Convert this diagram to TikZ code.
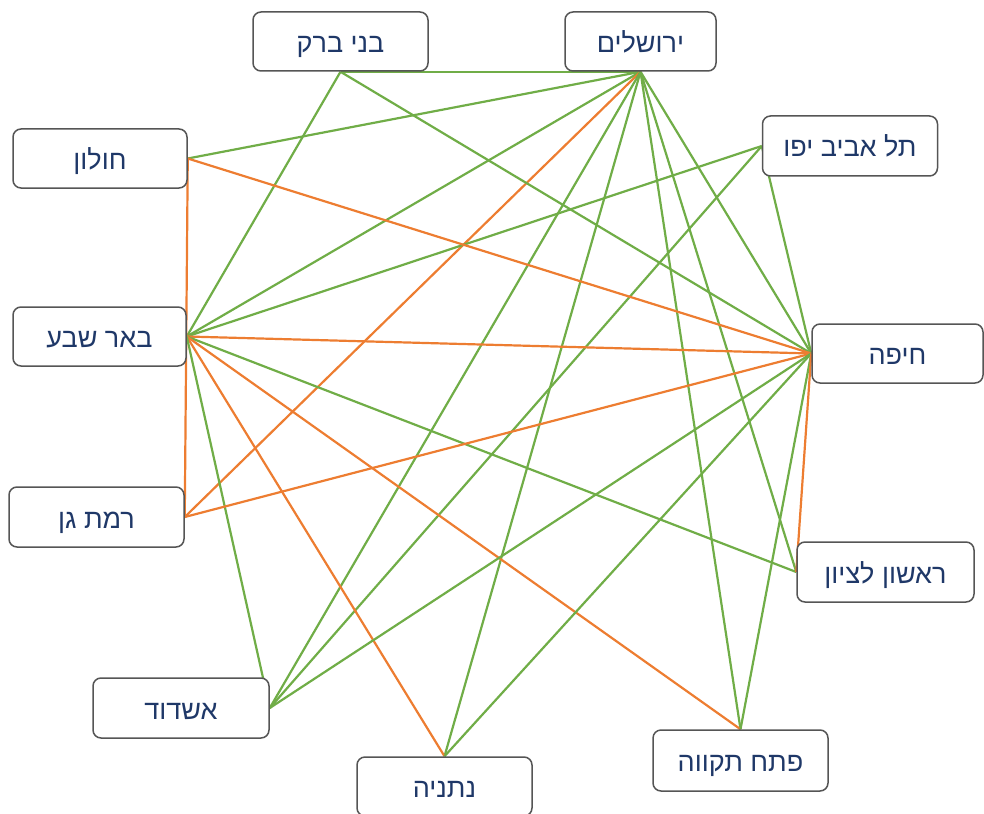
\documentclass[tikz,border=0pt]{standalone}
\usepackage{fontspec}
\newfontfamily\hebfont[Script=Hebrew]{Liberation Sans}
\TeXXeTstate=1
\usetikzlibrary{backgrounds}
\definecolor{gline}{HTML}{70AD47}
\definecolor{oline}{HTML}{ED7D31}
\definecolor{navy}{HTML}{1F3868}
\definecolor{boxgray}{HTML}{555555}
\tikzset{
  city/.style={draw=boxgray, line width=1.5pt, fill=white, rounded corners=8pt,
    minimum width=175pt, minimum height=59pt, inner sep=0pt,
    text height=22pt, text depth=0pt,
    text=navy, font=\hebfont\fontsize{27}{30}\selectfont},
  gedge/.style={draw=gline, line width=2.2pt},
  oedge/.style={draw=oline, line width=2.2pt}
}
\newcommand{\heb}[1]{\beginR #1\endR}
\begin{document}
\begin{tikzpicture}[x=1pt,y=-1pt]
\useasboundingbox (0,0) rectangle (984,813);
\node[city] (bb) at (340.5,41.5) {\heb{בני ברק}};
\node[city, minimum width=151pt] (jer) at (640.5,41.5) {\heb{ירושלים}};
\node[city, minimum height=60pt] (ta) at (850,146) {\heb{תל אביב יפו}};
\node[city, minimum width=174pt] (hol) at (100,158.5) {\heb{חולון}};
\node[city, minimum width=173pt] (bs) at (99.5,336.5) {\heb{באר שבע}};
\node[city, minimum width=171pt] (hai) at (897.5,353.5) {\heb{חיפה}};
\node[city, minimum height=60pt] (rg) at (96.5,517) {\heb{רמת גן}};
\node[city, minimum width=177pt, minimum height=60pt] (ris) at (885.5,572) {\heb{ראשון לציון}};
\node[city, minimum width=176pt, minimum height=60pt] (ash) at (181,708) {\heb{אשדוד}};
\node[city] (net) at (444.5,786.5) {\heb{נתניה}};
\node[city, minimum height=61pt] (pt) at (740.5,760.5) {\heb{פתח תקווה}};
\begin{scope}[on background layer]
% Jerusalem
\draw[gedge] (bb.south) -- (jer.south);
\draw[gedge] (jer.south) -- (hol.east);
\draw[gedge] (jer.south) -- (bs.east);
\draw[oedge] (jer.south) -- (rg.east);
\draw[gedge] (jer.south) -- (ash.east);
\draw[gedge] (jer.south) -- (net.north);
\draw[gedge] (jer.south) -- (pt.north);
\draw[gedge] (jer.south) -- (ris.west);
\draw[gedge] (jer.south) -- (hai.west);
% Bnei Brak
\draw[gedge] (bb.south) -- (bs.east);
\draw[gedge] (bb.south) -- (hai.west);
% Tel Aviv
\draw[gedge] (ta.west) -- (bs.east);
\draw[gedge] (ta.west) -- (ash.east);
\draw[gedge] (ta.west) -- (hai.west);
% Holon
\draw[oedge] (hol.east) -- (hai.west);
\draw[oedge] (hol.east) -- (rg.east);
% Beer Sheva
\draw[oedge] (bs.east) -- (hai.west);
\draw[gedge] (bs.east) -- (ris.west);
\draw[oedge] (bs.east) -- (pt.north);
\draw[oedge] (bs.east) -- (net.north);
\draw[gedge] (bs.east) -- (ash.east);
% Ramat Gan
\draw[oedge] (rg.east) -- (hai.west);
% Haifa
\draw[gedge] (hai.west) -- (ash.east);
\draw[gedge] (hai.west) -- (net.north);
\draw[gedge] (hai.west) -- (pt.north);
\draw[oedge] (hai.west) -- (ris.west);
\end{scope}
\end{tikzpicture}
\end{document}
